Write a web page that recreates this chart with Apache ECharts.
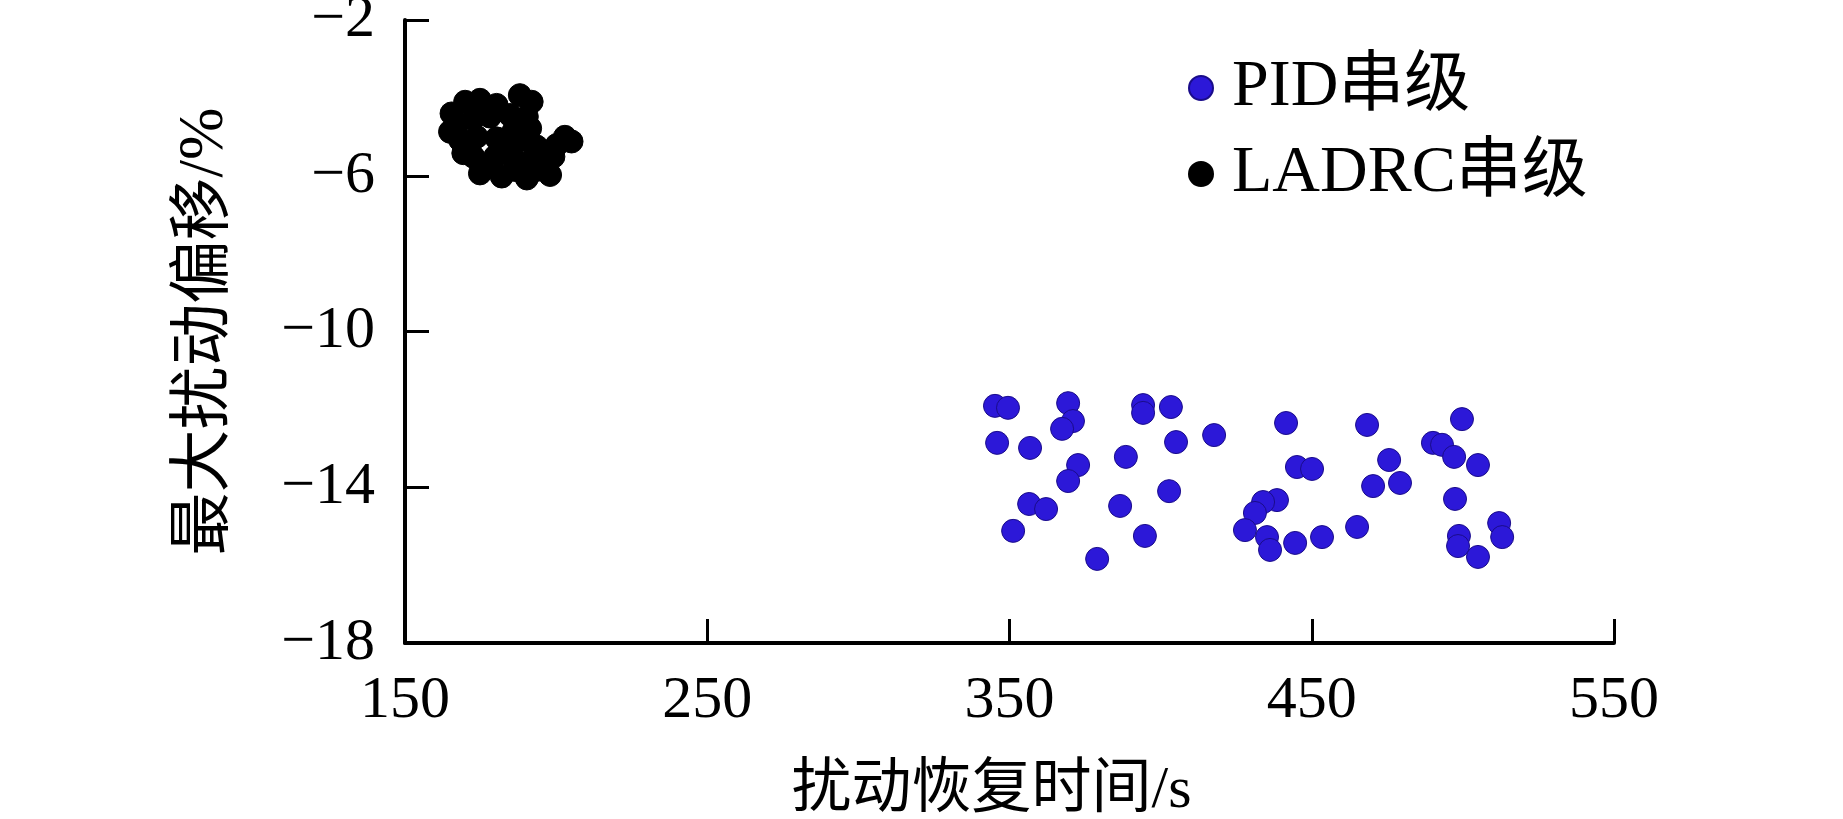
<!DOCTYPE html>
<html>
<head>
<meta charset="utf-8">
<script src="https://cdn.jsdelivr.net/npm/echarts@6/dist/echarts.min.js"></script>
<style>
html,body{margin:0;padding:0;background:#fff;}
#chart{width:1843px;height:819px;}
</style>
</head>
<body>
<div id="chart"></div>
<script>
// ---- data ----
const seriesNames = ['PID串级', 'LADRC串级'];
const xTicks = [150, 250, 350, 450, 550];
const yTicks = [-18, -14, -10, -6, -2];
const xAxisTitle = '扰动恢复时间/s';
const yAxisTitle = '最大扰动偏移/%';

// PID cascade: [recovery time (s), max deviation (%)]
const pidData = [
  [345.2, -11.91], [349.5, -11.96], [369.4, -11.84], [371.0, -12.30], [367.4, -12.50],
  [394.2, -11.89], [394.2, -12.09], [403.4, -11.94], [345.9, -12.86], [356.8, -12.99],
  [405.1, -12.84], [417.7, -12.66], [388.5, -13.22], [372.7, -13.43], [369.4, -13.84],
  [402.8, -14.10], [356.5, -14.43], [362.1, -14.56], [386.6, -14.48], [351.2, -15.12],
  [394.8, -15.25], [379.0, -15.84],
  [441.5, -12.35], [468.3, -12.40], [499.7, -12.25], [490.1, -12.86], [493.1, -12.91],
  [497.1, -13.22], [505.0, -13.43], [445.1, -13.48], [450.1, -13.53], [475.6, -13.30],
  [470.3, -13.97], [479.2, -13.89], [497.4, -14.30], [438.5, -14.33], [433.9, -14.38],
  [431.2, -14.66], [427.9, -15.10], [435.2, -15.28], [436.2, -15.61], [444.5, -15.43],
  [453.4, -15.28], [465.0, -15.02], [498.7, -15.25], [498.4, -15.51], [505.0, -15.79],
  [512.0, -14.92], [513.0, -15.28]
];

// LADRC cascade: [recovery time (s), max deviation (%)]
const ladrcData = [
  [165.4, -4.40], [164.9, -4.87], [169.9, -4.10], [174.8, -4.05], [180.3, -4.18],
  [188.0, -3.93], [191.9, -4.10], [190.3, -4.48], [184.7, -4.44], [178.1, -4.48],
  [172.6, -4.53], [168.2, -5.08], [173.7, -5.00], [180.3, -5.04], [185.8, -4.87],
  [191.4, -4.78], [189.2, -5.08], [183.6, -5.25], [172.6, -5.51], [177.0, -5.77],
  [182.0, -6.02], [186.4, -5.85], [191.9, -5.60], [193.6, -5.85], [198.0, -5.98],
  [200.2, -5.21], [205.1, -5.12], [199.1, -5.51], [174.8, -5.94], [169.3, -5.42],
  [179.8, -5.51], [185.8, -5.55], [193.6, -5.25], [167.1, -4.70], [190.3, -6.07],
  [202.9, -5.00]
];

// ---- chart ----
const FONT = '"Liberation Serif", "Noto Sans CJK SC", serif';
const fmt = v => String(v).replace('-', '\u2212');
const chart = echarts.init(document.getElementById('chart'), null, {renderer: 'canvas'});
chart.setOption({
  backgroundColor: '#ffffff',
  animation: false,
  textStyle: {fontFamily: FONT, color: '#000'},
  grid: {left: 405, right: 229, top: 20, bottom: 176, containLabel: false, outerBoundsMode: 'none'},
  legend: {
    orient: 'vertical',
    left: 1183,
    top: 50,
    itemWidth: 24,
    itemHeight: 24,
    itemGap: 20,
    icon: 'circle',
    textStyle: {fontFamily: FONT, fontSize: 66, color: '#000', padding: [0, 0, 0, 14]},
    data: seriesNames
  },
  xAxis: {
    type: 'value',
    min: xTicks[0],
    max: xTicks[xTicks.length - 1],
    name: xAxisTitle,
    nameLocation: 'middle',
    nameGap: 118,
    nameTextStyle: {fontFamily: FONT, fontSize: 60, color: '#000', padding: [0, 36, 0, 0]},
    axisLine: {show: true, onZero: false, lineStyle: {color: '#000', width: 4}},
    axisTick: {show: true, inside: true, length: 24, lineStyle: {color: '#000', width: 3}, customValues: xTicks},
    axisLabel: {fontFamily: FONT, fontSize: 60, color: '#000', margin: 28, customValues: xTicks, formatter: fmt},
    splitLine: {show: false}
  },
  yAxis: {
    type: 'value',
    min: yTicks[0],
    max: yTicks[yTicks.length - 1],
    name: yAxisTitle,
    nameLocation: 'middle',
    nameRotate: 90,
    nameGap: 168,
    nameTextStyle: {fontFamily: FONT, fontSize: 63, color: '#000'},
    axisLine: {show: true, onZero: false, lineStyle: {color: '#000', width: 4}},
    axisTick: {show: true, inside: true, length: 24, lineStyle: {color: '#000', width: 3}, customValues: yTicks},
    axisLabel: {fontFamily: FONT, fontSize: 60, color: '#000', margin: 30, customValues: yTicks, formatter: fmt},
    splitLine: {show: false}
  },
  series: [
    {
      name: seriesNames[0],
      type: 'scatter',
      symbol: 'circle',
      symbolSize: 23,
      itemStyle: {color: '#2c18d8', borderColor: '#1a0c8a', borderWidth: 1, opacity: 1},
      data: pidData
    },
    {
      name: seriesNames[1],
      type: 'scatter',
      symbol: 'circle',
      symbolSize: 23,
      itemStyle: {color: '#000000', borderColor: '#000', borderWidth: 1, opacity: 1},
      data: ladrcData
    }
  ]
});
</script>
</body>
</html>
